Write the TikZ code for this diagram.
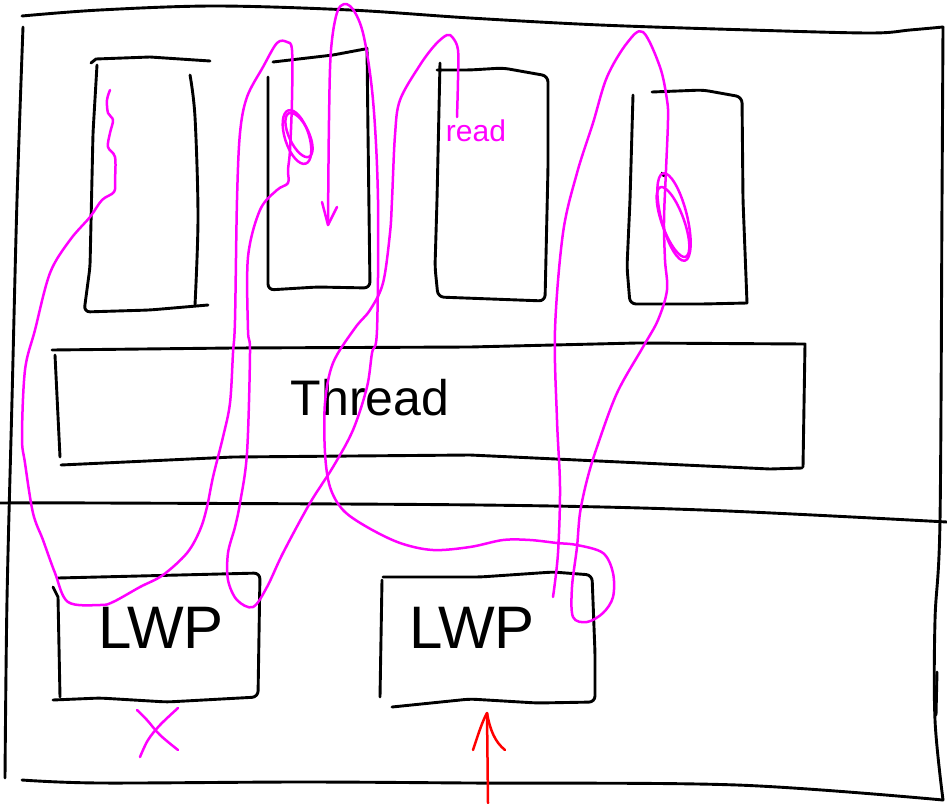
\documentclass[tikz,border=0pt]{standalone}
\usepackage{fontspec}
\setmainfont{Liberation Sans}
\definecolor{mag}{RGB}{255,0,255}
\definecolor{rd}{RGB}{255,0,0}
\begin{document}
\begin{tikzpicture}[x=1pt,y=-1pt,
  ink/.style={line width=2.9pt,line cap=round,line join=round,black},
  box/.style={ink,rounded corners=6pt},
  pen/.style={line width=2.5pt,line cap=round,line join=round,mag},
  redpen/.style={line width=2.5pt,line cap=round,line join=round,rd},
  sm/.style={smooth,tension=0.55},
  label/.style={inner sep=0pt,font=\fontsize{#1}{#1}\selectfont}]
\useasboundingbox (0,0) rectangle (947,803);
\fill[white] (0,0) rectangle (947,803);
% outer frame
\draw[ink] plot[sm] coordinates {(22,16) (100,10) (215,6) (350,10) (470,18) (600,25) (750,30) (870,33) (910,30) (943,27)};
\draw[ink] plot[sm] coordinates {(23,27) (17,200) (12,400) (7,600) (5,778)};
\draw[ink] plot[sm] coordinates {(943,27) (942,200) (940,520) (935,620) (935,720) (943,800)};
\draw[ink] (937,672) -- (936,715);
\draw[ink] plot[sm] coordinates {(22,780) (100,783) (300,782) (470,783) (737,785) (943,800)};
% divider
\draw[ink] plot[sm] coordinates {(0,503) (100,503) (480,505) (703,510) (947,522)};
% box 1
\draw[ink] (91,63) -- (96,59) -- (150,57) -- (210,61);
\draw[box] (97,65) -- (93,133) -- (90,267) -- (84,312) -- (150,310) -- (208,305);
\draw[ink] plot[sm] coordinates {(190,75) (195,117) (198,217) (195,305)};
% box 2
\draw[ink] (273,62) -- (333,55) -- (365,49);
\draw[box] (367,48) -- (368,133) -- (370,288) -- (317,287) -- (268,290) -- (268,77);
% box 3
\draw[box] (440,63) -- (437,200) -- (435,267) -- (438,297) -- (545,301) -- (548,167) -- (548,76) -- (503,68) -- (470,70) -- (437,70);
% box 4
\draw[box] (633,95) -- (630,200) -- (627,267) -- (630,304) -- (703,304) -- (747,303);
\draw[box] (652,92) -- (703,90) -- (742,97) -- (743,200) -- (747,303);
\draw[ink] (662,173) -- (664,176);
% thread box
\draw[ink] (52,350) -- (233,348) -- (470,347) -- (637,343) -- (805,344) -- (803,467);
\draw[ink] (802,468) -- (770,469) -- (470,455) -- (233,457) -- (61,465);
\draw[ink] (55,355) -- (60,457);
\node[label=50] (thread) at (370,398) {Thread};
% LWP 1
\draw[box] (58,578) -- (260,573) -- (258,697) -- (167,702) -- (100,698) -- (53,700);
\draw[ink] (53,587) -- (58,597) -- (60,697);
\node[label=60] (lwpA) at (161,628) {LWP};
% LWP 2
\draw[ink] (382,580) -- (380,697);
\draw[box] (383,577) -- (480,577) -- (553,572) -- (592,575) -- (595,653) -- (595,702) -- (537,703) -- (470,699) -- (392,707);
\node[label=60] (lwpB) at (472,628) {LWP};
% magenta path 1 (ends in arrow)
\draw[pen] plot[sm] coordinates {(110,90) (107,100) (108,113) (113,120) (110,133) (108,147) (115,157) (115,180) (114,192) (102,200) (90,217) (70,240) (50,273) (35,330) (25,370) (22,437) (25,463) (33,513) (43,540) (55,573) (68,602) (100,605) (113,602) (140,587) (163,575) (187,553) (200,530) (207,507) (213,477) (223,437) (230,403) (233,353) (235,320) (237,200) (240,133) (247,97) (263,67) (277,43) (287,42) (292,50) (292,100) (290,150) (288,170) (288,183) (277,190) (260,210) (248,257) (248,330) (250,353) (247,453) (240,503) (235,527) (228,553) (228,580) (237,600) (253,607) (267,587) (283,553) (310,503) (333,467) (353,430) (367,387) (372,353) (377,330) (378,200) (373,100) (363,33) (350,6) (338,10) (331,50) (329,120) (328,225)};
\draw[pen] (322,202) -- (328,225) -- (337,207);
\draw[pen,rotate around={18:(297,137)}] (297,137) ellipse [x radius=12, y radius=28];
\draw[pen,rotate around={25:(299,135)}] (299,135) ellipse [x radius=10, y radius=24];
% magenta path 2
\draw[pen] plot[sm] coordinates {(457,117) (458,80) (458,50) (453,38) (447,35) (435,45) (420,65) (400,100) (395,135) (392,200) (390,233) (383,283) (370,310) (355,328) (333,363) (325,403) (325,453) (330,487) (343,510) (367,527) (400,543) (433,550) (470,547) (503,540) (530,540) (557,543) (577,545) (603,553) (613,573) (613,597) (603,613) (587,622) (573,617) (572,587) (577,547) (580,513) (587,480) (597,447) (617,393) (643,347) (658,320) (667,290) (665,260) (664,220) (666,170) (668,120) (667,100) (660,67) (643,32) (627,43) (607,77) (593,123) (577,173) (563,233) (555,330) (557,420) (560,487) (558,553) (553,597)};
\draw[pen,rotate around={14:(674,217)}] (674,217) ellipse [x radius=13, y radius=45];
\draw[pen,rotate around={20:(673,222)}] (673,222) ellipse [x radius=11, y radius=37];
\node[label=30,text=mag] (readlbl) at (476,131) {read};
% magenta X
\draw[pen] plot[sm] coordinates {(137,710) (147,720) (160,735) (178,750)};
\draw[pen] plot[sm] coordinates {(178,708) (160,725) (148,740) (140,757)};
% red arrow
\coordinate (rbase) at (488,803);
\coordinate (rtip) at (487,713);
\draw[redpen] (rbase) -- (rtip);
\draw[redpen] (473,750) .. controls (478,735) and (482,722) .. (rtip) .. controls (490,730) and (495,742) .. (505,750);
\end{tikzpicture}
\end{document}
